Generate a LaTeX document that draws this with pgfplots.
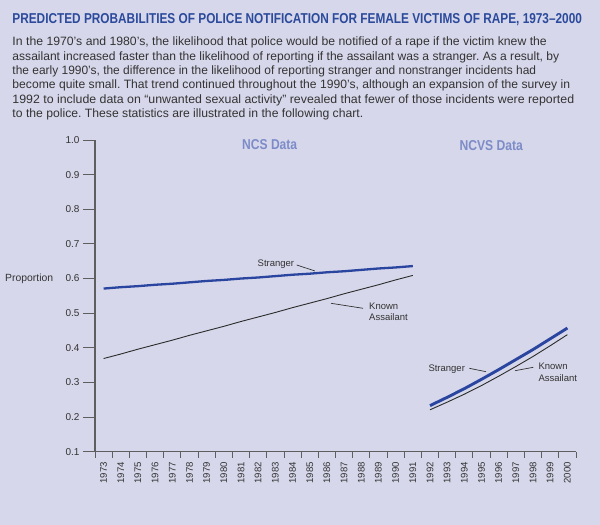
\documentclass[border=0pt]{standalone}
\usepackage{pgfplots}
\pgfplotsset{compat=1.18}
\usepackage{fontspec}
\setmainfont{Liberation Sans}
\frenchspacing
\definecolor{bg}{HTML}{D6D7EA}
\definecolor{titleblue}{HTML}{2B4A9C}
\definecolor{headblue}{HTML}{7D8CC8}
\definecolor{txt}{HTML}{333333}
\definecolor{axisgray}{HTML}{5E5E5E}
\definecolor{strblue}{HTML}{2A45A0}
\definecolor{known}{HTML}{2B2B2B}
\pgfplotstableread{
year p
1973 0.571
1974 0.575
1975 0.578
1976 0.582
1977 0.585
1978 0.589
1979 0.593
1980 0.596
1981 0.600
1982 0.603
1983 0.607
1984 0.611
1985 0.614
1986 0.618
1987 0.621
1988 0.625
1989 0.629
1990 0.632
1991 0.636
}\ncsstranger
\pgfplotstableread{
year p
1973 0.369
1974 0.382
1975 0.396
1976 0.409
1977 0.422
1978 0.436
1979 0.449
1980 0.462
1981 0.476
1982 0.489
1983 0.502
1984 0.516
1985 0.529
1986 0.542
1987 0.556
1988 0.569
1989 0.582
1990 0.596
1991 0.609
}\ncsknown
\pgfplotstableread{
year p
1992 0.233
1993 0.257
1994 0.282
1995 0.309
1996 0.337
1997 0.366
1998 0.395
1999 0.426
2000 0.457
}\ncvsstranger
\pgfplotstableread{
year p
1992 0.221
1993 0.243
1994 0.266
1995 0.291
1996 0.318
1997 0.346
1998 0.375
1999 0.406
2000 0.438
}\ncvsknown
\begin{document}
\begin{tikzpicture}[x=1pt,y=1pt]
\fill[bg] (0,0) rectangle (600,525);
\path[use as bounding box] (0,0) rectangle (600,525);
% title
\node[anchor=base west,inner sep=0,text=titleblue] at (12.2,501)
  {\resizebox{569.5pt}{10pt}{\bfseries PREDICTED PROBABILITIES OF POLICE NOTIFICATION FOR FEMALE VICTIMS OF RAPE, 1973–2000}};
% body
\begin{scope}[every node/.style={anchor=base west,inner sep=0,text=txt,font=\fontsize{12.1}{14}\selectfont}]
\node at (12.3,479) {\resizebox{534.4pt}{\height}{In the 1970’s and 1980’s, the likelihood that police would be notified of a rape if the victim knew the}};
\node at (12.3,464.7) {\resizebox{546.7pt}{\height}{assailant increased faster than the likelihood of reporting if the assailant was a stranger. As a result, by}};
\node at (12.3,450.4) {\resizebox{523.7pt}{\height}{the early 1990’s, the difference in the likelihood of reporting stranger and nonstranger incidents had}};
\node at (12.3,436.1) {\resizebox{557.7pt}{\height}{become quite small. That trend continued throughout the 1990’s, although an expansion of the survey in}};
\node at (12.3,421.8) {\resizebox{561.7pt}{\height}{1992 to include data on “unwanted sexual activity” revealed that fewer of those incidents were reported}};
\node at (12.3,407.5) {\resizebox{350.7pt}{\height}{to the police. These statistics are illustrated in the following chart.}};
\end{scope}
% headers
\node[anchor=base west,inner sep=0,text=headblue] at (242,375) {\resizebox{55pt}{10pt}{\bfseries NCS Data}};
\node[anchor=base west,inner sep=0,text=headblue] at (459.3,374.5) {\resizebox{63.4pt}{10pt}{\bfseries NCVS Data}};
% y label
\node[anchor=base west,inner sep=0,text=txt,font=\fontsize{10.4}{12}\selectfont] at (5,243.3) {Proportion};
% main axis (y axis and data)
\begin{axis}[
  at={(95pt,73.3pt)}, anchor=south west, scale only axis,
  width=481pt, height=311.7pt,
  xmin=1972.5, xmax=2000.5, ymin=0.1, ymax=1.0,
  axis lines=left, hide x axis,
  axis line style={-, draw=axisgray, line width=1.1pt},
  ytick={0.1,0.2,...,1.0},
  tick align=outside, major tick length=12pt,
  tick style={draw=axisgray, line width=0.9pt},
  /pgf/number format/assume math mode=true,
  yticklabel style={/pgf/number format/.cd, fixed, fixed zerofill, precision=1},
  tick label style={font=\fontsize{10}{12}\selectfont, text=txt},
  clip=false,
]
\addplot[strblue, line width=2.3pt] table[x=year,y=p] {\ncsstranger};
\addplot[known, line width=0.9pt] table[x=year,y=p] {\ncsknown};
\addplot[known, line width=0.9pt] table[x=year,y=p] {\ncvsknown};
\addplot[strblue, line width=2.9pt] table[x=year,y=p] {\ncvsstranger};
\end{axis}
% x axis
\begin{axis}[
  at={(95pt,73.3pt)}, anchor=south west, scale only axis,
  width=481pt, height=311.7pt,
  xmin=1972.5, xmax=2000.5, ymin=0.1, ymax=1.0,
  axis x line=bottom, hide y axis,
  axis line style={-, draw=axisgray, line width=1.1pt},
  xtick={1973,1974,...,2000},
  minor xtick={1972.5,1973.5,...,2000.5},
  tick align=outside, major tick length=0pt, minor tick length=6pt,
  tick style={draw=axisgray, line width=0.9pt},
  /pgf/number format/assume math mode=true,
  /pgf/number format/1000 sep={},
  xticklabel style={rotate=90, anchor=east, font=\fontsize{9.6}{12}\selectfont, text=txt},
  xticklabel shift={7pt},
]
\end{axis}
% annotations
\begin{scope}[every node/.style={inner sep=0,text=txt,font=\fontsize{9.5}{11}\selectfont}]
\node[anchor=base east] at (294.3,258.3) {Stranger};
\node[anchor=base west] at (369,215.3) {Known};
\node[anchor=base west] at (369,204) {Assailant};
\node[anchor=base west] at (428.3,153.3) {Stranger};
\node[anchor=base west] at (538.3,155) {Known};
\node[anchor=base west] at (538.3,143.7) {Assailant};
\end{scope}
\begin{scope}[draw=txt, line width=0.7pt]
\draw (296.7,260) -- (315,254);
\draw (331,221.7) -- (363,216.7);
\draw (469.3,156.7) -- (486,153.3);
\draw (515,154.3) -- (533.3,157.7);
\end{scope}
\end{tikzpicture}
\end{document}
